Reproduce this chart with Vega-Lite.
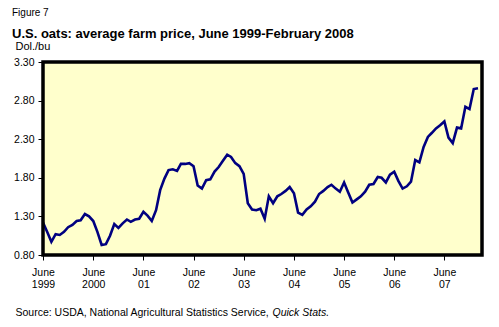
{
  "$schema": "https://vega.github.io/schema/vega-lite/v6.json",
  "width": 439,
  "height": 193,
  "autosize": {"type": "none"},
  "padding": {"left": 43, "top": 62, "right": 17, "bottom": 72},
  "background": "white",
  "config": {"font": "Liberation Sans"},
  "view": {"fill": "#FFFFCC", "stroke": null},
  "title": {
    "text": "Figure 7",
    "subtitle": "U.S. oats: average farm price, June 1999-February 2008",
    "anchor": "start", "frame": "group", "dx": -31, "offset": -1,
    "fontSize": 10, "fontWeight": "normal", "color": "#000000",
    "subtitleFontSize": 13, "subtitleFontWeight": "bold", "subtitleColor": "#000000", "subtitlePadding": 10
  },
  "data": {"values": [
    {"date": "1999/06/01", "price": 1.22}, {"date": "1999/07/01", "price": 1.10}, {"date": "1999/08/01", "price": 0.97},
    {"date": "1999/09/01", "price": 1.07}, {"date": "1999/10/01", "price": 1.06}, {"date": "1999/11/01", "price": 1.10},
    {"date": "1999/12/01", "price": 1.16}, {"date": "2000/01/01", "price": 1.19}, {"date": "2000/02/01", "price": 1.24},
    {"date": "2000/03/01", "price": 1.25}, {"date": "2000/04/01", "price": 1.33}, {"date": "2000/05/01", "price": 1.30},
    {"date": "2000/06/01", "price": 1.24}, {"date": "2000/07/01", "price": 1.10}, {"date": "2000/08/01", "price": 0.93},
    {"date": "2000/09/01", "price": 0.94}, {"date": "2000/10/01", "price": 1.05}, {"date": "2000/11/01", "price": 1.20},
    {"date": "2000/12/01", "price": 1.15}, {"date": "2001/01/01", "price": 1.21}, {"date": "2001/02/01", "price": 1.26},
    {"date": "2001/03/01", "price": 1.23}, {"date": "2001/04/01", "price": 1.26}, {"date": "2001/05/01", "price": 1.27},
    {"date": "2001/06/01", "price": 1.36}, {"date": "2001/07/01", "price": 1.31}, {"date": "2001/08/01", "price": 1.24},
    {"date": "2001/09/01", "price": 1.38}, {"date": "2001/10/01", "price": 1.64}, {"date": "2001/11/01", "price": 1.79},
    {"date": "2001/12/01", "price": 1.90}, {"date": "2002/01/01", "price": 1.91}, {"date": "2002/02/01", "price": 1.89},
    {"date": "2002/03/01", "price": 1.98}, {"date": "2002/04/01", "price": 1.98}, {"date": "2002/05/01", "price": 1.99},
    {"date": "2002/06/01", "price": 1.95}, {"date": "2002/07/01", "price": 1.70}, {"date": "2002/08/01", "price": 1.66},
    {"date": "2002/09/01", "price": 1.77}, {"date": "2002/10/01", "price": 1.78}, {"date": "2002/11/01", "price": 1.88},
    {"date": "2002/12/01", "price": 1.94}, {"date": "2003/01/01", "price": 2.02}, {"date": "2003/02/01", "price": 2.10},
    {"date": "2003/03/01", "price": 2.07}, {"date": "2003/04/01", "price": 1.99}, {"date": "2003/05/01", "price": 1.95},
    {"date": "2003/06/01", "price": 1.85}, {"date": "2003/07/01", "price": 1.47}, {"date": "2003/08/01", "price": 1.39},
    {"date": "2003/09/01", "price": 1.38}, {"date": "2003/10/01", "price": 1.40}, {"date": "2003/11/01", "price": 1.27},
    {"date": "2003/12/01", "price": 1.56}, {"date": "2004/01/01", "price": 1.47}, {"date": "2004/02/01", "price": 1.56},
    {"date": "2004/03/01", "price": 1.59}, {"date": "2004/04/01", "price": 1.63}, {"date": "2004/05/01", "price": 1.68},
    {"date": "2004/06/01", "price": 1.60}, {"date": "2004/07/01", "price": 1.35}, {"date": "2004/08/01", "price": 1.32},
    {"date": "2004/09/01", "price": 1.39}, {"date": "2004/10/01", "price": 1.43}, {"date": "2004/11/01", "price": 1.49},
    {"date": "2004/12/01", "price": 1.59}, {"date": "2005/01/01", "price": 1.63}, {"date": "2005/02/01", "price": 1.68},
    {"date": "2005/03/01", "price": 1.71}, {"date": "2005/04/01", "price": 1.66}, {"date": "2005/05/01", "price": 1.62},
    {"date": "2005/06/01", "price": 1.74}, {"date": "2005/07/01", "price": 1.61}, {"date": "2005/08/01", "price": 1.48},
    {"date": "2005/09/01", "price": 1.52}, {"date": "2005/10/01", "price": 1.56}, {"date": "2005/11/01", "price": 1.62},
    {"date": "2005/12/01", "price": 1.71}, {"date": "2006/01/01", "price": 1.72}, {"date": "2006/02/01", "price": 1.81},
    {"date": "2006/03/01", "price": 1.80}, {"date": "2006/04/01", "price": 1.74}, {"date": "2006/05/01", "price": 1.84},
    {"date": "2006/06/01", "price": 1.88}, {"date": "2006/07/01", "price": 1.76}, {"date": "2006/08/01", "price": 1.66},
    {"date": "2006/09/01", "price": 1.69}, {"date": "2006/10/01", "price": 1.75}, {"date": "2006/11/01", "price": 2.03},
    {"date": "2006/12/01", "price": 2.00}, {"date": "2007/01/01", "price": 2.20}, {"date": "2007/02/01", "price": 2.33},
    {"date": "2007/03/01", "price": 2.38}, {"date": "2007/04/01", "price": 2.44}, {"date": "2007/05/01", "price": 2.48},
    {"date": "2007/06/01", "price": 2.53}, {"date": "2007/07/01", "price": 2.32}, {"date": "2007/08/01", "price": 2.25},
    {"date": "2007/09/01", "price": 2.45}, {"date": "2007/10/01", "price": 2.44}, {"date": "2007/11/01", "price": 2.72},
    {"date": "2007/12/01", "price": 2.69}, {"date": "2008/01/01", "price": 2.95}, {"date": "2008/02/01", "price": 2.96}
  ]},
  "layer": [
    {
      "mark": {"type": "line", "color": "#000080", "strokeWidth": 2.6},
      "encoding": {
        "x": {
          "field": "date", "type": "temporal",
          "scale": {"domain": [{"year": 1999, "month": 6, "date": 1}, {"year": 2008, "month": 3, "date": 1}], "nice": false},
          "axis": {
            "orient": "bottom",
            "values": [
              {"year": 1999, "month": 6, "date": 1}, {"year": 2000, "month": 6, "date": 1}, {"year": 2001, "month": 6, "date": 1},
              {"year": 2002, "month": 6, "date": 1}, {"year": 2003, "month": 6, "date": 1}, {"year": 2004, "month": 6, "date": 1},
              {"year": 2005, "month": 6, "date": 1}, {"year": 2006, "month": 6, "date": 1}, {"year": 2007, "month": 6, "date": 1}
            ],
            "labelExpr": "['June', year(datum.value) < 2001 ? timeFormat(datum.value, '%Y') : timeFormat(datum.value, '%y')]",
            "labelFontSize": 10.5, "labelColor": "#000000", "labelBaseline": "top", "labelLineHeight": 12,
            "labelPadding": 7, "labelFlush": false, "labelOverlap": false,
            "tickSize": 5, "tickColor": "#000000", "tickWidth": 1, "domain": false, "grid": false,
            "title": "Source: USDA, National Agricultural Statistics Service, ",
            "titleFontSize": 10.5, "titleFontWeight": "normal", "titleColor": "#000000",
            "titleAnchor": "start", "titleAlign": "left", "titleBaseline": "alphabetic", "titleX": -28, "titleY": 60
          }
        },
        "y": {
          "field": "price", "type": "quantitative",
          "scale": {"domain": [0.8, 3.3], "nice": false, "zero": false},
          "axis": {
            "values": [0.8, 1.3, 1.8, 2.3, 2.8, 3.3], "format": ".2f",
            "labelFontSize": 10.5, "labelColor": "#000000", "labelPadding": 4, "labelOverlap": false, "labelFlush": false,
            "tickSize": 5, "tickColor": "#000000", "domain": false, "grid": false,
            "title": "Dol./bu", "titleAngle": 0, "titleFontSize": 11, "titleFontWeight": "normal", "titleColor": "#000000",
            "titleAlign": "left", "titleBaseline": "alphabetic", "titleX": -28, "titleY": -13
          }
        }
      }
    },
    {
      "data": {"values": [
        {"fx": "1999/06/01", "fy": 0.8, "k": 0},
        {"fx": "1999/06/01", "fy": 3.3, "k": 1},
        {"fx": "2008/03/01", "fy": 3.3, "k": 2},
        {"fx": "2008/03/01", "fy": 0.8, "k": 3},
        {"fx": "1999/06/01", "fy": 0.8, "k": 4}
      ]},
      "mark": {"type": "line", "color": "#000000", "strokeWidth": 3.5, "strokeCap": "square", "strokeJoin": "miter"},
      "encoding": {
        "x": {
          "field": "fx", "type": "temporal",
          "axis": {
            "orient": "bottom", "labels": false, "ticks": false, "domain": false, "grid": false,
            "title": "Quick Stats.", "titleFontSize": 10.5, "titleFontWeight": "normal", "titleFontStyle": "italic",
            "titleColor": "#000000", "titleAnchor": "start", "titleAlign": "left", "titleBaseline": "alphabetic",
            "titleX": 229, "titleY": 60
          }
        },
        "y": {
          "field": "fy", "type": "quantitative",
          "axis": {
            "values": [0.8, 1.3, 1.8, 2.3, 2.8, 3.3], "format": ".2f",
            "labelFontSize": 10.5, "labelColor": "#000000", "labelPadding": 4, "labelOverlap": false, "labelFlush": false,
            "tickSize": 5, "tickColor": "#000000", "domain": false, "grid": false,
            "title": "Dol./bu", "titleAngle": 0, "titleFontSize": 11, "titleFontWeight": "normal", "titleColor": "#000000",
            "titleAlign": "left", "titleBaseline": "alphabetic", "titleX": -28, "titleY": -13
          }
        },
        "order": {"field": "k", "type": "quantitative"}
      }
    }
  ],
  "resolve": {"axis": {"x": "independent", "y": "shared"}}
}
